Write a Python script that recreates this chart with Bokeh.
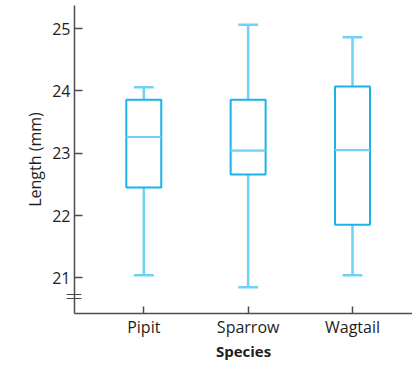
from bokeh.plotting import figure
from bokeh.models import Range1d, FixedTicker
from bokeh.embed import file_html
from bokeh.resources import INLINE

species = ["Pipit", "Sparrow", "Wagtail"]
lower = [21.04, 20.85, 21.04]
q1 = [22.45, 22.66, 21.85]
median = [23.26, 23.04, 23.05]
q3 = [23.86, 23.86, 24.07]
upper = [24.06, 25.06, 24.86]
y_ticks = [21, 22, 23, 24, 25]

BOX = "#1BB3EA"
WHISK = "#6ED1F5"
AXIS = "#4d4d4d"
TXT = "#1e1e1e"

xs = list(range(len(species)))
x0, x1 = -0.664, 2.575
y0, y1 = 20.427, 25.371
FW, FH = 338.0, 308.0
px_y = (y1 - y0) / FH

p = figure(width=412, height=364, output_backend="svg", toolbar_location=None,
           x_range=Range1d(x0, x1), y_range=Range1d(y0, y1),
           min_border_left=74, min_border_right=0, min_border_top=5,
           min_border_bottom=51)
p.outline_line_color = None
p.grid.visible = False
p.background_fill_color = "white"

bw = 0.335
cw = 0.19
# whiskers
p.segment(x0=xs, y0=lower, x1=xs, y1=q1, line_color=WHISK, line_width=2.5)
p.segment(x0=xs, y0=q3, x1=xs, y1=upper, line_color=WHISK, line_width=2.5)
p.segment(x0=[x - cw / 2 for x in xs], y0=lower, x1=[x + cw / 2 for x in xs], y1=lower,
          line_color=WHISK, line_width=2.5)
p.segment(x0=[x - cw / 2 for x in xs], y0=upper, x1=[x + cw / 2 for x in xs], y1=upper,
          line_color=WHISK, line_width=2.5)
# boxes
p.vbar(x=xs, width=bw, bottom=q1, top=q3, fill_color="white", line_color=BOX, line_width=2)
p.segment(x0=[x - bw / 2 for x in xs], y0=median, x1=[x + bw / 2 for x in xs], y1=median,
          line_color=WHISK, line_width=2.2)

# axes
for ax in (p.xaxis[0], p.yaxis[0]):
    ax.axis_line_color = AXIS
    ax.axis_line_width = 1.5
    ax.major_tick_line_color = AXIS
    ax.major_tick_line_width = 1.5
    ax.major_tick_out = 0
    ax.minor_tick_line_color = None
    ax.major_label_text_font = "Open Sans"
    ax.major_label_text_font_size = "16px"
    ax.major_label_text_color = TXT
    ax.axis_label_text_font = "Open Sans"
    ax.axis_label_text_color = TXT

p.xaxis.ticker = FixedTicker(ticks=xs)
p.xaxis.major_label_overrides = {i: s for i, s in enumerate(species)}
p.xaxis.major_tick_in = 7
p.xaxis.major_label_standoff = 2
p.xaxis.axis_label = "Species"
p.xaxis.axis_label_text_font_style = "bold"
p.xaxis.axis_label_text_font_size = "15px"
p.xaxis.axis_label_standoff = 0

# y axis; the axis-break marks are drawn as two minor ticks crossing the axis
p.yaxis.ticker = FixedTicker(ticks=y_ticks,
                             minor_ticks=[y0 + 15.5 * px_y, y0 + 19.5 * px_y])
p.yaxis.major_tick_in = 8
p.yaxis.major_label_standoff = -4
p.yaxis.minor_tick_line_color = AXIS
p.yaxis.minor_tick_line_width = 1.2
p.yaxis.minor_tick_in = 7
p.yaxis.minor_tick_out = 8
p.yaxis.axis_label = "Length (mm)"
p.yaxis.axis_label_text_font_style = "normal"
p.yaxis.axis_label_text_font_size = "16px"
p.yaxis.axis_label_standoff = 3

open("out.html", "w").write(file_html(p, INLINE))
